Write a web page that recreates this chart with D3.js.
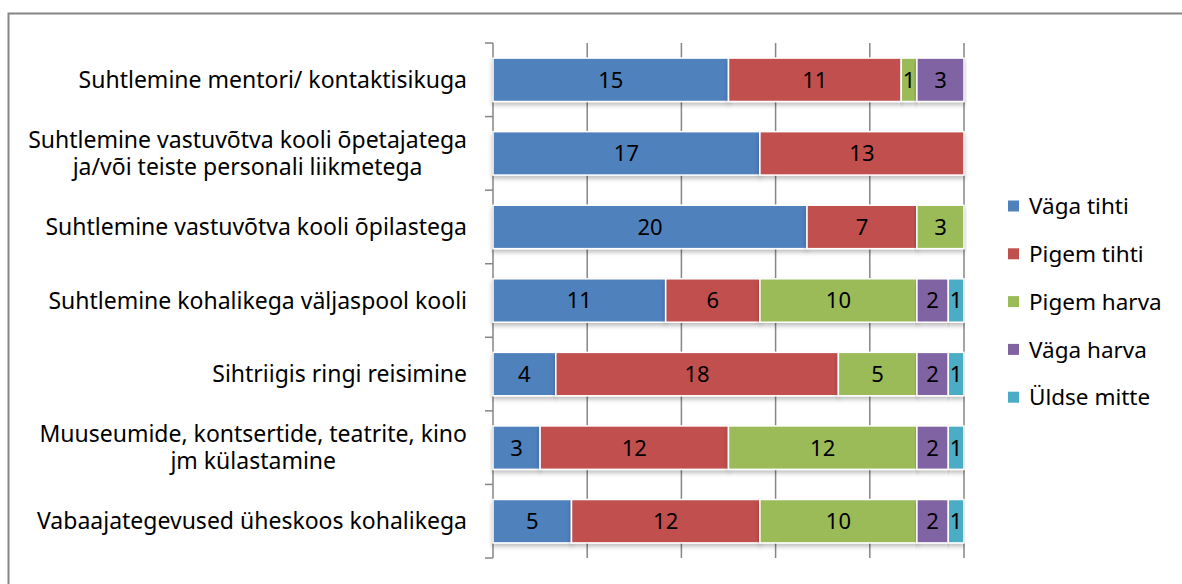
<!DOCTYPE html>
<html>
<head>
<meta charset="utf-8">
<script src="https://cdn.jsdelivr.net/npm/d3@7"></script>
<style>
  body { margin: 0; background: #fff; }
  svg { display: block; font-family: "Noto Sans", "Open Sans", sans-serif; }
</style>
</head>
<body>
<svg width="1182" height="584"></svg>
<script>
// categories (each entry is the wrapped lines of the label)
const categories = [
  ["Suhtlemine mentori/ kontaktisikuga"],
  ["Suhtlemine vastuvõtva kooli õpetajatega", "ja/või teiste personali liikmetega"],
  ["Suhtlemine vastuvõtva kooli õpilastega"],
  ["Suhtlemine kohalikega väljaspool kooli"],
  ["Sihtriigis ringi reisimine"],
  ["Muuseumide, kontsertide, teatrite, kino", "jm külastamine"],
  ["Vabaajategevused üheskoos kohalikega"]
];
const seriesNames = ["Väga tihti", "Pigem tihti", "Pigem harva", "Väga harva", "Üldse mitte"];
const vagaTihti   = [15, 17, 20, 11, 4, 3, 5];
const pigemTihti  = [11, 13, 7, 6, 18, 12, 12];
const pigemHarva  = [1, 0, 3, 10, 5, 12, 10];
const vagaHarva   = [3, 0, 0, 2, 2, 2, 2];
const uldseMitte  = [0, 0, 0, 1, 1, 1, 1];
const xTicks = [0, 6, 12, 18, 24, 30];
const colors = ["#4F81BD", "#C0504D", "#9BBB59", "#8064A2", "#4BACC6"];

const svg = d3.select("svg");

// outer frame
svg.append("rect")
  .attr("x", 8.5).attr("y", 13.5)
  .attr("width", 1200).attr("height", 600)
  .attr("fill", "none").attr("stroke", "#868686").attr("stroke-width", 2);

const defs = svg.append("defs");
const f = defs.append("filter").attr("id", "shadow")
  .attr("x", "-5%").attr("y", "-20%").attr("width", "110%").attr("height", "160%");
f.append("feDropShadow").attr("dx", 0).attr("dy", 3).attr("stdDeviation", 2)
  .attr("flood-color", "#000").attr("flood-opacity", 0.25);

const plotLeft = 493, plotRight = 964, plotTop = 43, plotBottom = 558;

const table = categories.map((c, i) => ({
  label: c,
  "Väga tihti": vagaTihti[i],
  "Pigem tihti": pigemTihti[i],
  "Pigem harva": pigemHarva[i],
  "Väga harva": vagaHarva[i],
  "Üldse mitte": uldseMitte[i]
}));

const x = d3.scaleLinear().domain([0, 30]).range([plotLeft, plotRight]);
const y = d3.scaleBand().domain(d3.range(categories.length)).range([plotTop, plotBottom]).paddingInner(0.41).paddingOuter(0.205);
const color = d3.scaleOrdinal().domain(seriesNames).range(colors);

// vertical gridlines
svg.append("g").selectAll("line")
  .data(xTicks.slice(1))
  .enter().append("line")
  .attr("x1", d => x(d)).attr("x2", d => x(d))
  .attr("y1", plotTop).attr("y2", plotBottom)
  .attr("stroke", "#868686").attr("stroke-width", 1.5);

// left axis line and category ticks
const yEdges = d3.scaleLinear().domain([0, categories.length]).range([plotTop, plotBottom]);
svg.append("line")
  .attr("x1", plotLeft).attr("x2", plotLeft).attr("y1", plotTop).attr("y2", plotBottom)
  .attr("stroke", "#868686").attr("stroke-width", 1.5);
svg.append("g").selectAll("line")
  .data(d3.range(categories.length + 1))
  .enter().append("line")
  .attr("x1", plotLeft - 8).attr("x2", plotLeft)
  .attr("y1", d => yEdges(d)).attr("y2", d => yEdges(d))
  .attr("stroke", "#868686").attr("stroke-width", 1.5);

const stacked = d3.stack().keys(seriesNames)(table);

const layers = svg.append("g").selectAll("g")
  .data(stacked)
  .enter().append("g")
  .attr("fill", d => color(d.key));

layers.selectAll("rect")
  .data(d => d.map((v, i) => ({ v, i })).filter(o => o.v[1] > o.v[0]))
  .enter().append("rect")
  .attr("x", o => x(o.v[0]))
  .attr("y", o => y(o.i))
  .attr("width", o => x(o.v[1]) - x(o.v[0]))
  .attr("height", y.bandwidth())
  .attr("stroke", "#fff").attr("stroke-width", 1.5)
  .attr("filter", "url(#shadow)");

// data labels
layers.selectAll("text")
  .data(d => d.map((v, i) => ({ v, i })).filter(o => o.v[1] > o.v[0]))
  .enter().append("text")
  .attr("x", o => x((o.v[0] + o.v[1]) / 2))
  .attr("y", o => y(o.i) + y.bandwidth() / 2)
  .attr("dy", "0.36em")
  .attr("text-anchor", "middle")
  .attr("fill", "#000")
  .style("font-size", "22px")
  .text(o => o.v[1] - o.v[0]);

// category labels
const labelRight = 467;
categories.forEach((lines, i) => {
  const g = svg.append("text")
    .attr("text-anchor", "middle")
    .style("font-size", "23px")
    .attr("fill", "#000");
  const cy = y(i) + y.bandwidth() / 2;
  const lh = 27;
  const tspans = lines.map((t, k) => g.append("tspan")
    .attr("y", cy + (k - (lines.length - 1) / 2) * lh)
    .attr("dy", "0.36em")
    .text(t));
  const maxW = d3.max(tspans, s => s.node().getComputedTextLength());
  tspans.forEach(s => s.attr("x", labelRight - maxW / 2));
});

// legend
const legend = svg.append("g");
seriesNames.forEach((name, i) => {
  const ly = 206 + i * 47.8;
  legend.append("rect")
    .attr("x", 1008).attr("y", ly - 5.5)
    .attr("width", 11).attr("height", 11)
    .attr("fill", color(name));
  legend.append("text")
    .attr("x", 1029).attr("y", ly).attr("dy", "0.36em")
    .style("font-size", "22.5px")
    .text(name);
});
</script>
</body>
</html>
